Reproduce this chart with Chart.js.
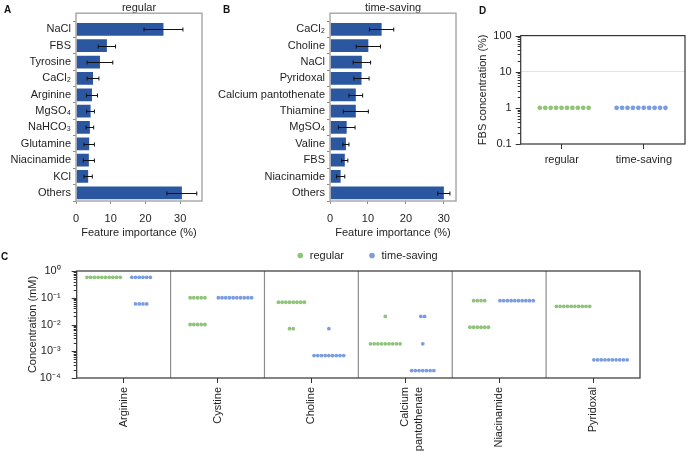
<!DOCTYPE html>
<html>
<head>
<meta charset="utf-8">
<script src="https://cdn.jsdelivr.net/npm/chart.js@4.4.1/dist/chart.umd.min.js"></script>
<style>
body { margin: 0; background: #fff; width: 689px; height: 452px; overflow: hidden; position: relative; font-family: 'Liberation Sans', Arial, sans-serif; }
.panel { position: absolute; }
.tag { position: absolute; font-weight: bold; font-size: 10px; line-height: 10px; color: #111; }
</style>
</head>
<body>
<div class="panel" style="left:15px;top:226px;width:704px;height:226px"><canvas id="chartC"></canvas></div>
<div class="panel" style="left:0;top:0;width:215px;height:245px"><canvas id="chartA"></canvas></div>
<div class="panel" style="left:200px;top:0;width:270px;height:245px"><canvas id="chartB"></canvas></div>
<div class="panel" style="left:470px;top:20px;width:219px;height:160px"><canvas id="chartD"></canvas></div>
<div class="tag" style="left:4px;top:5px">A</div>
<div class="tag" style="left:223px;top:5px">B</div>
<div class="tag" style="left:1px;top:252px">C</div>
<div class="tag" style="left:479px;top:6px">D</div>
<script>
// panel A - feature importance, regular medium
const aLabels = ['NaCl', 'FBS', 'Tyrosine', 'CaCl₂', 'Arginine', 'MgSO₄', 'NaHCO₃', 'Glutamine', 'Niacinamide', 'KCl', 'Others'];
const aValues = [25.2, 8.9, 6.9, 4.9, 4.6, 4.2, 4.0, 3.8, 3.7, 3.5, 30.5];
const aErrors = [5.6, 2.5, 3.7, 1.7, 1.6, 1.1, 1.1, 1.5, 1.6, 1.2, 4.3];

// panel B - feature importance, time-saving medium
const bLabels = ['CaCl₂', 'Choline', 'NaCl', 'Pyridoxal', 'Calcium pantothenate', 'Thiamine', 'MgSO₄', 'Valine', 'FBS', 'Niacinamide', 'Others'];
const bValues = [13.6, 10.1, 8.4, 8.3, 6.8, 6.8, 4.4, 4.2, 3.9, 2.8, 30.0];
const bErrors = [3.2, 3.2, 2.3, 2.0, 1.8, 3.3, 2.2, 0.8, 0.8, 1.1, 1.6];

const importanceTicks = [0, 10, 20, 30];

// panel C - concentrations (mM), 10 runs per medium
const cLabels = ['Arginine', 'Cystine', 'Choline', ['Calcium', 'pantothenate'], 'Niacinamide', 'Pyridoxal'];
const cRegular = [
    [0.58, 0.58, 0.58, 0.58, 0.58, 0.58, 0.58, 0.58, 0.58, 0.58],
    [0.1, 0.1, 0.1, 0.1, 0.1, 0.01, 0.01, 0.01, 0.01, 0.01],
    [0.068, 0.068, 0.068, 0.068, 0.068, 0.068, 0.068, 0.068, 0.007, 0.007],
    [0.02, 0.0019, 0.0019, 0.0019, 0.0019, 0.0019, 0.0019, 0.0019, 0.0019, 0.0019],
    [0.078, 0.078, 0.078, 0.078, 0.0079, 0.0079, 0.0079, 0.0079, 0.0079, 0.0079],
    [0.048, 0.048, 0.048, 0.048, 0.048, 0.048, 0.048, 0.048, 0.048, 0.048]
];
const cTimeSaving = [
    [0.58, 0.58, 0.58, 0.58, 0.58, 0.58, 0.059, 0.059, 0.059, 0.059],
    [0.1, 0.1, 0.1, 0.1, 0.1, 0.1, 0.1, 0.1, 0.1, 0.1],
    [0.007, 0.00069, 0.00069, 0.00069, 0.00069, 0.00069, 0.00069, 0.00069, 0.00069, 0.00069],
    [0.0019, 0.00019, 0.00019, 0.00019, 0.00019, 0.00019, 0.00019, 0.00019, 0.02, 0.02],
    [0.078, 0.078, 0.078, 0.078, 0.078, 0.078, 0.078, 0.078, 0.078, 0.078],
    [0.00048, 0.00048, 0.00048, 0.00048, 0.00048, 0.00048, 0.00048, 0.00048, 0.00048, 0.00048]
];
const cTicks = [0.0001, 0.001, 0.01, 0.1, 1];

// panel D - FBS concentration (%)
const dLabels = ['regular', 'time-saving'];
const dRegular = [1, 1, 1, 1, 1, 1, 1, 1, 1, 1];
const dTimeSaving = [1, 1, 1, 1, 1, 1, 1, 1, 1, 1];
const dTicks = [0.1, 1, 10, 100];

const barColor = '#2b56a0';
const green = '#8fc47a';
const blue = '#7b9de0';

Chart.defaults.font.family = "'Liberation Sans', Arial, sans-serif";
Chart.defaults.font.size = 11;
Chart.defaults.color = '#1e1e1e';
Chart.defaults.animation = false;
Chart.defaults.maintainAspectRatio = false;

// spread repeated values side by side, like a column scatter
function swarm(groups, start, shift, step) {
    const pts = [];
    groups.forEach((vals, c) => {
        const counts = {};
        vals.forEach(v => counts[v] = (counts[v] || 0) + 1);
        const seen = {};
        vals.forEach(v => {
            const k = seen[v] = (seen[v] === undefined ? 0 : seen[v] + 1);
            pts.push({ x: start + c + shift + (k - (counts[v] - 1) / 2) * step, y: v });
        });
    });
    return pts;
}

// 1..9 x each decade, majors taken from the label list
function logTickList(majors) {
    const out = [];
    majors.forEach((m, i) => {
        out.push({ value: m });
        if (i < majors.length - 1) {
            for (let k = 2; k <= 9; k++) out.push({ value: k * m });
        }
    });
    return out;
}

const superDigits = { '0': '⁰', '1': '¹', '2': '²', '3': '³', '4': '⁴', '5': '⁵', '-': '⁻' };
function powerLabel(v) {
    const e = String(Math.round(Math.log10(v)));
    return '10' + e.split('').map(ch => superDigits[ch]).join('');
}

const frame = {
    id: 'frame',
    afterDatasetsDraw(chart, args, opts) {
        const a = chart.chartArea;
        const ctx = chart.ctx;
        const lift = opts.lift || 0;
        ctx.save();
        ctx.strokeStyle = opts.color;
        ctx.lineWidth = opts.width;
        ctx.strokeRect(a.left, a.top - lift, a.right - a.left, a.bottom - a.top + lift);
        ctx.restore();
    }
};

const errorBars = {
    id: 'errorBars',
    afterDatasetsDraw(chart) {
        const ds = chart.data.datasets[0];
        const meta = chart.getDatasetMeta(0);
        const xs = chart.scales.x;
        const ctx = chart.ctx;
        ctx.save();
        ctx.strokeStyle = '#111';
        ctx.lineWidth = 1;
        meta.data.forEach((bar, i) => {
            const lo = xs.getPixelForValue(ds.data[i] - ds.errors[i]);
            const hi = xs.getPixelForValue(ds.data[i] + ds.errors[i]);
            const y = Math.round(bar.y) + 0.5;
            ctx.beginPath();
            ctx.moveTo(lo, y); ctx.lineTo(hi, y);
            ctx.moveTo(lo, y - 2); ctx.lineTo(lo, y + 2);
            ctx.moveTo(hi, y - 2); ctx.lineTo(hi, y + 2);
            ctx.stroke();
        });
        ctx.restore();
    }
};

const separators = {
    id: 'separators',
    beforeDatasetsDraw(chart, args, opts) {
        const a = chart.chartArea;
        const xs = chart.scales.x;
        const ctx = chart.ctx;
        ctx.save();
        ctx.strokeStyle = opts.color;
        ctx.lineWidth = 1.2;
        for (let i = 0; i < opts.count - 1; i++) {
            const x = xs.getPixelForValue(i + 0.5);
            ctx.beginPath();
            ctx.moveTo(x, a.top); ctx.lineTo(x, a.bottom);
            ctx.stroke();
        }
        ctx.restore();
    }
};

// major / minor tick marks on the log axis
const logTicks = {
    id: 'logTicks',
    afterDatasetsDraw(chart) {
        const ys = chart.scales.y;
        const ctx = chart.ctx;
        const left = chart.chartArea.left;
        ctx.save();
        ctx.strokeStyle = '#333';
        ctx.lineWidth = 1;
        ys.ticks.forEach(t => {
            const l = Math.log10(t.value);
            const major = Math.abs(l - Math.round(l)) < 1e-6;
            const y = Math.round(ys.getPixelForValue(t.value)) + 0.5;
            ctx.beginPath();
            ctx.moveTo(left - (major ? 5 : 3), y);
            ctx.lineTo(left, y);
            ctx.stroke();
        });
        ctx.restore();
    }
};

function importanceChart(id, labels, values, errors, title, xMax, yWidth, padRight) {
    return new Chart(document.getElementById(id), {
        type: 'bar',
        data: {
            labels: labels,
            datasets: [{
                data: values,
                errors: errors,
                backgroundColor: barColor,
                barPercentage: 0.78,
                categoryPercentage: 1
            }]
        },
        options: {
            indexAxis: 'y',
            layout: { padding: { left: 0, right: padRight, top: 0, bottom: 0 } },
            plugins: {
                legend: { display: false },
                tooltip: { enabled: false },
                title: {
                    display: true, text: title, fullSize: false,
                    padding: { top: 1, bottom: 7 },
                    font: { size: 11, weight: 'normal' }, color: '#1e1e1e'
                },
                frame: { color: '#ababab', width: 1.5, lift: 8 }
            },
            scales: {
                x: {
                    min: 0, max: xMax,
                    afterBuildTicks: s => { s.ticks = importanceTicks.map(v => ({ value: v })); },
                    ticks: { padding: 8 },
                    grid: { drawOnChartArea: false, tickLength: 3, tickColor: '#888' },
                    border: { display: false },
                    title: { display: true, text: 'Feature importance (%)', padding: { top: 0, bottom: 5 } },
                    afterFit: s => { s.height = 44; }
                },
                y: {
                    ticks: { padding: 2, autoSkip: false },
                    grid: { drawOnChartArea: false, tickLength: 3, tickColor: '#888' },
                    border: { display: false },
                    afterFit: s => { s.width = yWidth; }
                }
            }
        },
        plugins: [frame, errorBars]
    });
}

importanceChart('chartA', aLabels, aValues, aErrors, 'regular', 36.3, 76, 13);
importanceChart('chartB', bLabels, bValues, bErrors, 'time-saving', 33.2, 130, 14);

// panel C
new Chart(document.getElementById('chartC'), {
    type: 'scatter',
    data: {
        datasets: [{
            label: 'regular',
            data: swarm(cRegular, 0, -0.213, 0.0394),
            backgroundColor: green, borderColor: green, borderWidth: 0,
            pointRadius: 1.9, pointStyle: 'circle'
        }, {
            label: 'time-saving',
            data: swarm(cTimeSaving, 0, 0.186, 0.0394),
            backgroundColor: blue, borderColor: blue, borderWidth: 0,
            pointRadius: 1.9, pointStyle: 'circle'
        }]
    },
    options: {
        layout: { padding: 0 },
        plugins: {
            legend: {
                position: 'top',
                labels: { usePointStyle: true, pointStyle: 'circle', boxWidth: 8, boxHeight: 4, padding: 24, color: '#1e1e1e' }
            },
            tooltip: { enabled: false },
            frame: { color: '#333', width: 1.2 },
            separators: { count: cLabels.length, color: '#8c8c8c' }
        },
        scales: {
            x: {
                type: 'linear', min: -0.5, max: cLabels.length - 0.5,
                afterBuildTicks: s => { s.ticks = cLabels.map((l, i) => ({ value: i })); },
                ticks: { callback: v => cLabels[v], minRotation: 90, maxRotation: 90, autoSkip: false, padding: 4 },
                grid: { drawOnChartArea: false, tickLength: 5, tickColor: '#333' },
                border: { display: false },
                afterFit: s => { s.height = 74; }
            },
            y: {
                type: 'logarithmic', min: cTicks[0], max: cTicks[cTicks.length - 1],
                afterBuildTicks: s => { s.ticks = logTickList(cTicks); },
                ticks: { callback: v => cTicks.includes(v) ? powerLabel(v) : '', autoSkip: false, padding: 8 },
                grid: { display: false },
                border: { display: false },
                title: { display: true, text: 'Concentration (mM)', padding: { top: 11, bottom: 0 } },
                afterFit: s => { s.width = 61.7; }
            },
            // empty margin on the right so the legend centres like the original
            margin: {
                type: 'linear', position: 'right', display: true,
                ticks: { display: false }, grid: { display: false }, border: { display: false },
                afterFit: s => { s.width = 79; }
            }
        }
    },
    plugins: [separators, frame, logTicks]
});

// panel D
new Chart(document.getElementById('chartD'), {
    type: 'scatter',
    data: {
        datasets: [{
            label: 'regular',
            data: swarm([dRegular], 0, 0.03, 0.066),
            backgroundColor: green, borderWidth: 0, pointRadius: 2.4
        }, {
            label: 'time-saving',
            data: swarm([dTimeSaving], 1, -0.035, 0.066),
            backgroundColor: blue, borderWidth: 0, pointRadius: 2.4
        }]
    },
    options: {
        layout: { padding: { left: 0, right: 1, top: 13, bottom: 0 } },
        plugins: {
            legend: { display: false },
            tooltip: { enabled: false },
            frame: { color: '#333', width: 1.2 }
        },
        scales: {
            x: {
                type: 'linear', min: -0.5, max: dLabels.length - 0.5,
                afterBuildTicks: s => { s.ticks = dLabels.map((l, i) => ({ value: i })); },
                ticks: { callback: v => dLabels[v], autoSkip: false, padding: 4, maxRotation: 0 },
                grid: { drawOnChartArea: false, tickLength: 5, tickColor: '#333' },
                border: { display: false },
                afterFit: s => { s.height = 36; }
            },
            y: {
                type: 'logarithmic', min: dTicks[0], max: dTicks[dTicks.length - 1],
                afterBuildTicks: s => { s.ticks = logTickList(dTicks); },
                ticks: { callback: v => dTicks.includes(v) ? String(v) : '', autoSkip: false, padding: 9 },
                grid: {
                    drawTicks: false,
                    color: c => (c.tick && c.tick.value === 10) ? '#e4e4e4' : 'rgba(0,0,0,0)'
                },
                border: { display: false },
                title: { display: true, text: 'FBS concentration (%)', padding: { top: 6, bottom: 0 } },
                afterFit: s => { s.width = 50.7; }
            }
        }
    },
    plugins: [frame, logTicks]
});
</script>
</body>
</html>
